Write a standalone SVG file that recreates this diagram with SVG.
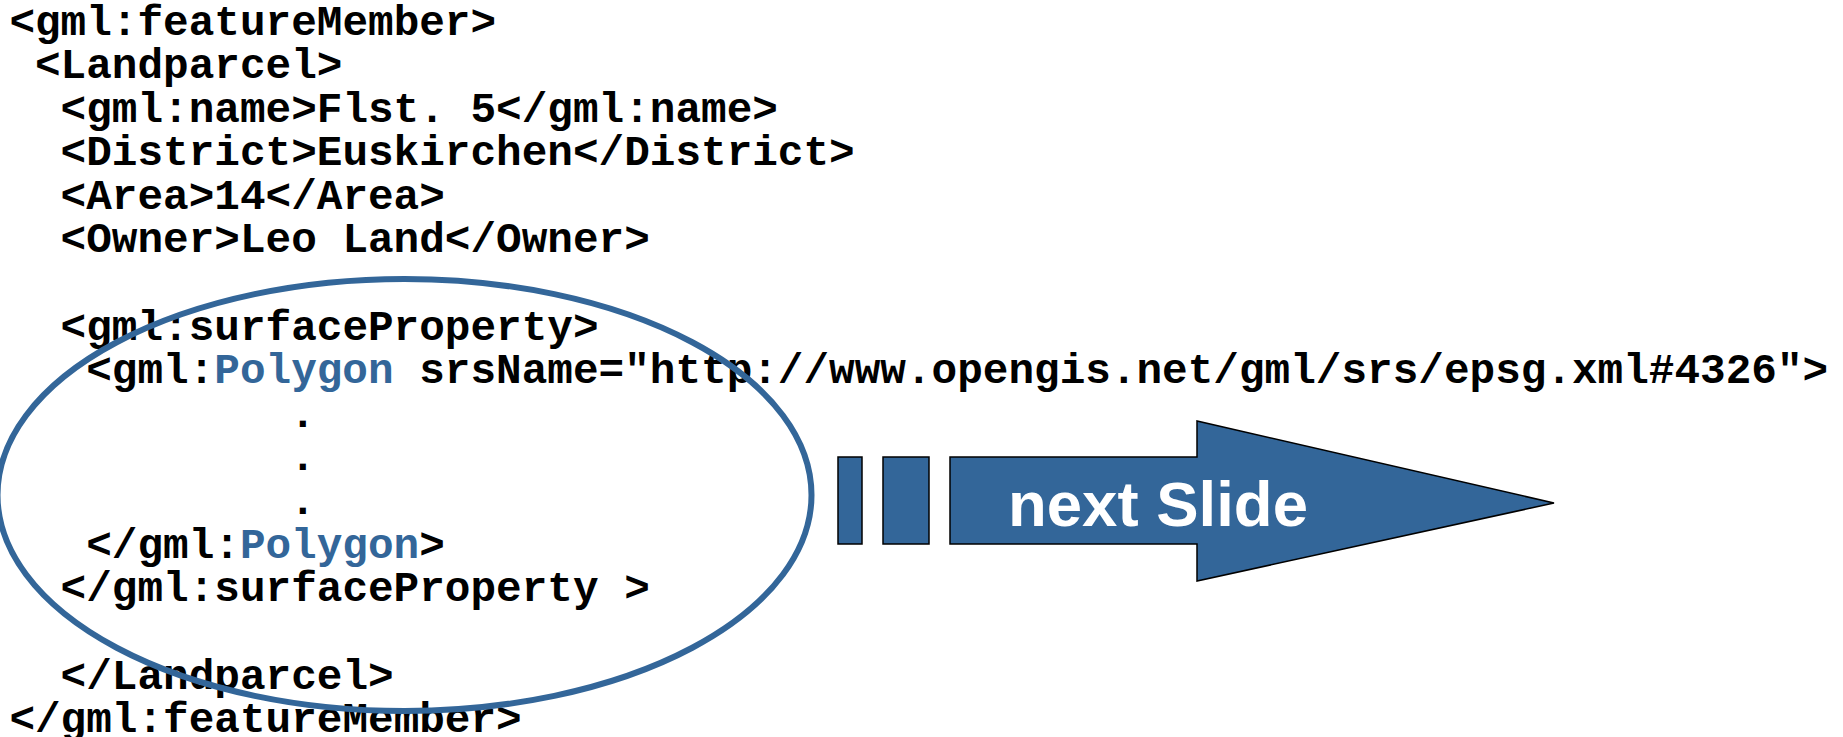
<svg xmlns="http://www.w3.org/2000/svg" width="1843" height="737" viewBox="0 0 1843 737">
  <style>
    .code { font-family: "Liberation Mono", "Courier New", monospace; font-weight: bold; font-size: 42.7px; fill: #000000; }
    .kw { fill: #336699; }
    .blk { fill: #336699; stroke: #000000; stroke-width: 1.5; stroke-linejoin: miter; }
    .label { font-family: "Liberation Sans", Arial, sans-serif; font-weight: bold; font-size: 63.5px; fill: #ffffff; }
  </style>
  <rect width="1843" height="737" fill="#ffffff"/>

  <!-- GML listing -->
  <g id="gml-listing" class="code">
    <text x="9.4" y="35">&lt;gml:featureMember&gt;</text>
    <text x="35" y="78">&lt;Landparcel&gt;</text>
    <text x="60.6" y="121.5">&lt;gml:name&gt;Flst. 5&lt;/gml:name&gt;</text>
    <text x="60.6" y="165">&lt;District&gt;Euskirchen&lt;/District&gt;</text>
    <text x="60.6" y="208.6">&lt;Area&gt;14&lt;/Area&gt;</text>
    <text x="60.6" y="252.2">&lt;Owner&gt;Leo Land&lt;/Owner&gt;</text>
    <text x="60.6" y="339.5">&lt;gml:surfaceProperty&gt;</text>
    <text x="86.2" y="383">&lt;gml:<tspan class="kw">Polygon</tspan> srsName="http://www.opengis.net/gml/srs/epsg.xml#4326"&gt;</text>
    <text x="290" y="426.5">.</text>
    <text x="290" y="470">.</text>
    <text x="290" y="513.5">.</text>
    <text x="86.2" y="557.5">&lt;/gml:<tspan class="kw">Polygon</tspan>&gt;</text>
    <text x="60.6" y="601">&lt;/gml:surfaceProperty &gt;</text>
    <text x="60.6" y="688.5">&lt;/Landparcel&gt;</text>
    <text x="9.4" y="732">&lt;/gml:featureMember&gt;</text>
  </g>

  <!-- highlight ring around the geometry property -->
  <g id="geometry-ring">
    <ellipse cx="404.5" cy="495" rx="407" ry="216" fill="none" stroke="#336699" stroke-width="6"/>
  </g>

  <!-- "next Slide" arrow with two lead-in bars -->
  <g id="next-slide-arrow">
    <rect class="blk" x="838" y="457" width="24" height="87"/>
    <rect class="blk" x="883" y="457" width="46" height="87"/>
    <polygon class="blk" points="950,457 1197,457 1197,421 1554,503 1197,581 1197,544 950,544"/>
    <text class="label" x="1008" y="525.5">next Slide</text>
  </g>
</svg>
